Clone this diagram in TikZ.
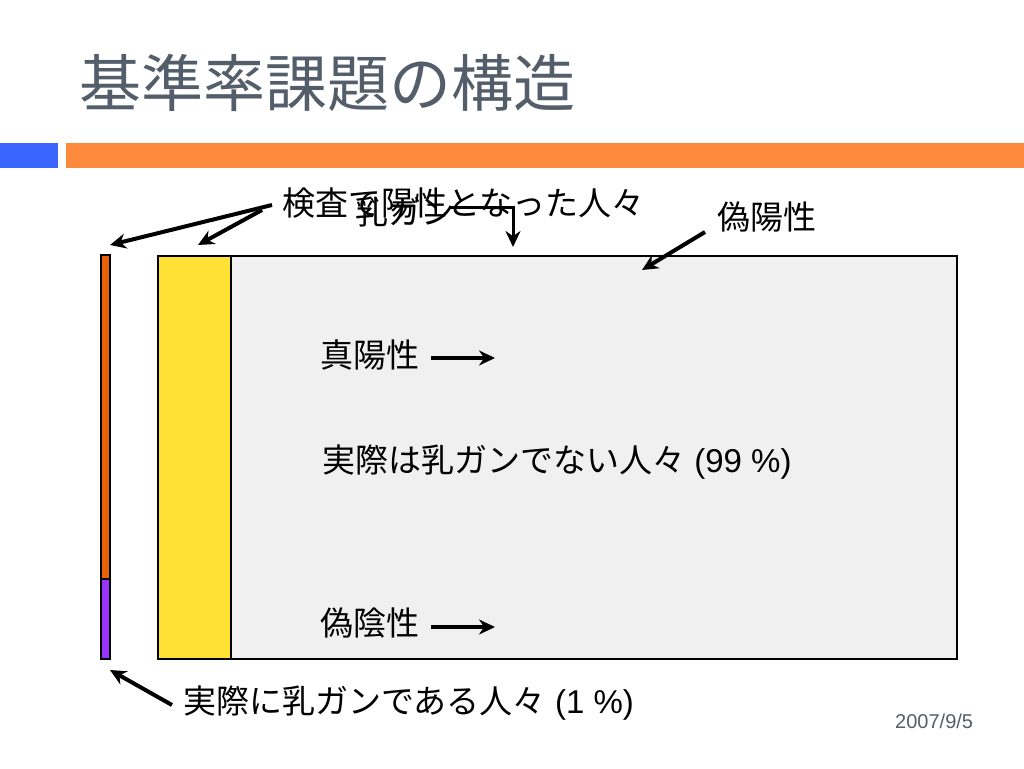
\documentclass[tikz,border=0pt]{standalone}
\usepackage{fontspec}
\setmainfont{Liberation Sans}
\newfontfamily\jp{Noto Sans CJK JP}
\usetikzlibrary{arrows.meta}
\definecolor{titlegray}{HTML}{545E6B}
\definecolor{barblue}{HTML}{3A66FF}
\definecolor{barorange}{HTML}{FF8A3D}
\definecolor{darkorange}{HTML}{E8620A}
\definecolor{barpurple}{HTML}{9933FF}
\definecolor{posyellow}{HTML}{FFE135}
\definecolor{neggray}{HTML}{F0F0F0}
\tikzset{
  lbl/.style={anchor=west, inner sep=0pt, font=\fontsize{33}{36}\selectfont},
  arr/.style={line width=4pt, -{Stealth[length=16pt,width=15pt]}},
  box/.style={draw=black, line width=2.2pt},
}
\begin{document}
\begin{tikzpicture}[x=1pt,y=-1pt]
\useasboundingbox (0,0) rectangle (1024,768);
% title
\node[anchor=west, inner sep=0pt, text=titlegray, font=\fontsize{62}{66}\selectfont\jp] (title) at (79,83) {基準率課題の構造};
% bars
\fill[barblue] (0,143) rectangle (58,168);
\fill[barorange] (66,143) rectangle (1024,168);
% left thin bar
\node[box, fill=darkorange, minimum width=9pt, minimum height=324pt, inner sep=0pt, anchor=north west] (cancerbar) at (100,254) {};
\node[box, fill=barpurple, minimum width=9pt, minimum height=80pt, inner sep=0pt, anchor=north west] (truebar) at (100,578) {};
% main rectangles
\node[box, fill=neggray, minimum width=726pt, minimum height=403pt, inner sep=0pt, anchor=north west] (negbox) at (230,255) {};
\node[box, fill=posyellow, minimum width=73pt, minimum height=403pt, inner sep=0pt, anchor=north west] (posbox) at (157,255) {};
% labels
\node[lbl] (testpos) at (282,203) {\jp 検査で陽性となった人々};
\node[lbl] (cancer) at (355,212) {\jp 乳ガン};
\node[lbl] (fp) at (717,217) {\jp 偽陽性};
\node[lbl] (tp) at (320,355) {\jp 真陽性};
\node[lbl] (nocancer) at (322,462) {{\jp 実際は乳ガンでない人々} (99 \%)};
\node[lbl] (fn) at (320,623) {\jp 偽陰性};
\node[lbl] (hascancer) at (183,703) {{\jp 実際に乳ガンである人々} (1 \%)};
\node[anchor=west, inner sep=0pt, text=titlegray, font=\fontsize{20}{24}\selectfont] (date) at (895,721) {2007/9/5};
% arrow endpoints
\coordinate (c1) at (110,245);
\coordinate (c2) at (198,245);
\coordinate (c3) at (513,247);
\coordinate (c4) at (642,270);
\coordinate (c5) at (495,358);
\coordinate (c6) at (495,627);
\coordinate (c7) at (110,670);
% arrows
\draw[arr] (testpos.west) ++(-10,2) -- (c1);
\draw[arr] (testpos.west) ++(-20,7) -- (c2);
\draw[line width=3pt, -{Stealth[length=16pt,width=15pt]}] (cancer.east) ++(-5,-5) -| (c3);
\draw[arr] (fp.west) ++(-12,15) -- (c4);
\draw[arr] (tp.east) ++(12,3) -- (c5);
\draw[arr] (fn.east) ++(12,4) -- (c6);
\draw[arr] (hascancer.west) ++(-11,2) -- (c7);
\end{tikzpicture}
\end{document}
